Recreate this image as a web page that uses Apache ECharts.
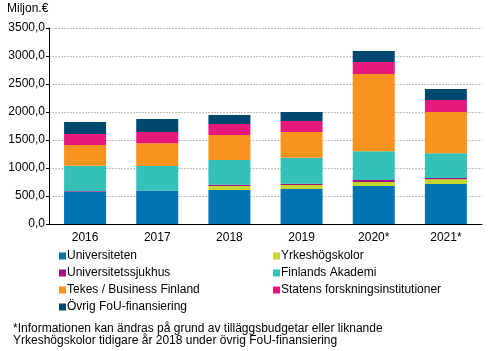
<!DOCTYPE html>
<html lang="sv">
<head>
<meta charset="UTF-8">
<title>FoU-finansiering</title>
<script src="https://cdn.jsdelivr.net/npm/echarts@6/dist/echarts.min.js"></script>
<style>
  html, body { margin: 0; padding: 0; background: #fff; }
  #main { width: 491px; height: 351px; }
</style>
</head>
<body>
<div id="main"></div>
<script>
// data (miljon €)
var years = ['2016', '2017', '2018', '2019', '2020*', '2021*'];
var universiteten = [580, 590, 607, 625, 679, 714];
var yrkeshogskolor = [0, 0, 72, 71, 71, 84];
var univSjukhus = [10, 5, 23, 24, 36, 23];
var finlandsAkademi = [450, 441, 441, 465, 512, 441];
var tekes = [371, 404, 446, 458, 1381, 738];
var statens = [196, 203, 197, 196, 214, 214];
var ovrig = [214, 232, 160, 161, 196, 197];

var seriesNames = ['Universiteten', 'Yrkeshögskolor', 'Universitetssjukhus', 'Finlands Akademi',
  'Tekes / Business Finland', 'Statens forskningsinstitutioner', 'Övrig FoU-finansiering'];
var seriesData = [universiteten, yrkeshogskolor, univSjukhus, finlandsAkademi, tekes, statens, ovrig];
var colors = ['#0073b0', '#c3d62e', '#a2137e', '#35c1ba', '#f7931e', '#e4197b', '#00486e'];

var font = 'Liberation Sans, Arial, sans-serif';
var myChart = echarts.init(document.getElementById('main'));

var series = seriesNames.map(function (n, i) {
  return {
    name: n,
    type: 'bar',
    stack: 'total',
    barWidth: 42,
    itemStyle: { color: colors[i] },
    data: seriesData[i]
  };
});

function legendBlock(left, names) {
  return {
    orient: 'vertical',
    left: left,
    top: 250,
    padding: 0,
    itemWidth: 7,
    itemHeight: 7,
    itemGap: 5,
    icon: 'rect',
    textStyle: { fontFamily: font, fontSize: 12, color: '#000', padding: [0, 0, 0, -4] },
    data: names
  };
}

myChart.setOption({
  animation: false,
  color: colors,
  textStyle: { fontFamily: font },
  grid: { left: 49, right: 9, top: 28, bottom: 127 },
  legend: [
    legendBlock(59, [seriesNames[0], seriesNames[2], seriesNames[4], seriesNames[6]]),
    legendBlock(273, [seriesNames[1], seriesNames[3], seriesNames[5]])
  ],
  graphic: [
    { type: 'text', left: 7, top: 3, style: { text: 'Miljon.€', font: '12px ' + font, fill: '#000' } },
    { type: 'text', left: 13, top: 323, style: {
      text: '*Informationen kan ändras på grund av tilläggsbudgetar eller liknande\nYrkeshögskolor tidigare år 2018 under övrig FoU-finansiering',
      font: '12px ' + font, fill: '#000', lineHeight: 12 } }
  ],
  xAxis: {
    type: 'category',
    data: years,
    axisLine: { lineStyle: { color: '#000' } },
    axisTick: { show: false },
    axisLabel: { color: '#000', fontSize: 12, fontFamily: font, margin: 8 }
  },
  yAxis: {
    type: 'value',
    min: 0,
    max: 3500,
    interval: 500,
    axisLine: { show: true, lineStyle: { color: '#000' } },
    axisTick: { show: true, length: 3, lineStyle: { color: '#000' } },
    axisLabel: {
      color: '#000', fontSize: 12, fontFamily: font, margin: 4,
      formatter: function (v) { return v.toFixed(1).replace('.', ','); }
    },
    splitLine: { lineStyle: { color: '#bdbdbd', type: [2, 1] } }
  },
  series: series
});
</script>
</body>
</html>
